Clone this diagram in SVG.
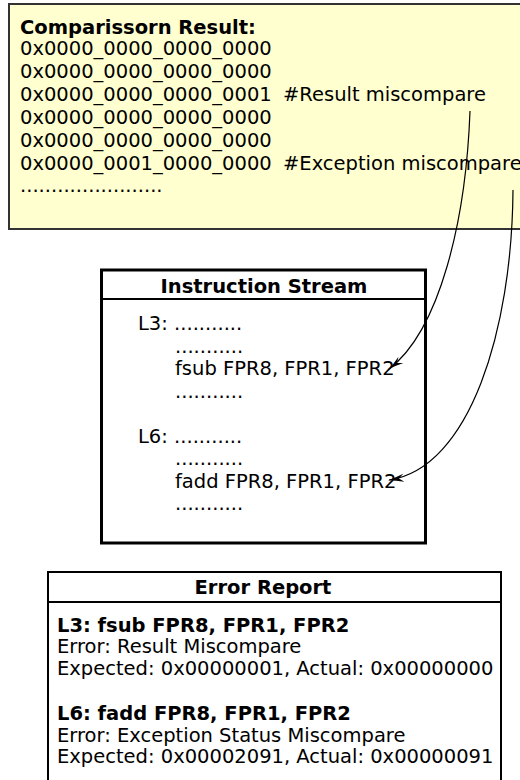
<svg xmlns="http://www.w3.org/2000/svg" width="520" height="780" viewBox="0 0 520 780">
<defs>
<style>
.t{font-family:"DejaVu Sans",Verdana,sans-serif;font-size:19.5px;fill:#000}
.b{font-weight:bold}
.c{fill:none;stroke:#000;stroke-width:1.2}
</style>
<marker id="ah" viewBox="0 -5 16 10" refX="15" refY="0" markerWidth="16" markerHeight="10" markerUnits="userSpaceOnUse" orient="auto">
<path d="M0,-4 Q8,-1.2 16,0 Q8,1.2 0,4 L5,0 Z" fill="#000"/>
</marker>
</defs>
<rect width="520" height="780" fill="#fff"/>
<g id="comparison-result">
<rect x="9" y="4" width="530" height="225" fill="#ffffd0" stroke="#333" stroke-width="2"/>
<text class="t b" x="20" y="34">Comparissorn Result:</text>
<text class="t" x="20" y="55">0x0000_0000_0000_0000</text>
<text class="t" x="20" y="78">0x0000_0000_0000_0000</text>
<text class="t" x="20" y="101">0x0000_0000_0000_0001</text>
<text class="t" x="283" y="101">#Result miscompare</text>
<text class="t" x="20" y="124">0x0000_0000_0000_0000</text>
<text class="t" x="20" y="147">0x0000_0000_0000_0000</text>
<text class="t" x="20" y="170">0x0000_0001_0000_0000</text>
<text class="t" x="283" y="170">#Exception miscompare</text>
<text class="t" x="20" y="192">.......................</text>
</g>
<g id="instruction-stream">
<rect x="101.5" y="270" width="324" height="273" fill="#fff" stroke="#000" stroke-width="3"/>
<line x1="101.5" y1="299" x2="425.5" y2="299" stroke="#000" stroke-width="2"/>
<text class="t b" x="264" y="293" text-anchor="middle">Instruction Stream</text>
<text class="t" x="138" y="330">L3: ...........</text>
<text class="t" x="175" y="352.5">...........</text>
<text class="t" x="175" y="375">fsub FPR8, FPR1, FPR2</text>
<text class="t" x="175" y="397.5">...........</text>
<text class="t" x="138" y="442.5">L6: ...........</text>
<text class="t" x="175" y="465">...........</text>
<text class="t" x="175" y="487.5">fadd FPR8, FPR1, FPR2</text>
<text class="t" x="175" y="510">...........</text>
</g>
<g id="error-report">
<rect x="48" y="572" width="453" height="240" fill="#fff" stroke="#000" stroke-width="2"/>
<line x1="48" y1="602" x2="501" y2="602" stroke="#000" stroke-width="2"/>
<text class="t b" x="263" y="594" text-anchor="middle">Error Report</text>
<text class="t b" x="57" y="632">L3: fsub FPR8, FPR1, FPR2</text>
<text class="t" x="57" y="653">Error: Result Miscompare</text>
<text class="t" x="57" y="675">Expected: 0x00000001, Actual: 0x00000000</text>
<text class="t b" x="57" y="720">L6: fadd FPR8, FPR1, FPR2</text>
<text class="t" x="57" y="742">Error: Exception Status Miscompare</text>
<text class="t" x="57" y="763">Expected: 0x00002091, Actual: 0x00000091</text>
</g>
<g id="connectors">
<path class="c" d="M470,111 C466,220 440,330 389,369" marker-end="url(#ah)"/>
<path class="c" d="M513,190 C512,330 470,468 389,480" marker-end="url(#ah)"/>
</g>
</svg>
